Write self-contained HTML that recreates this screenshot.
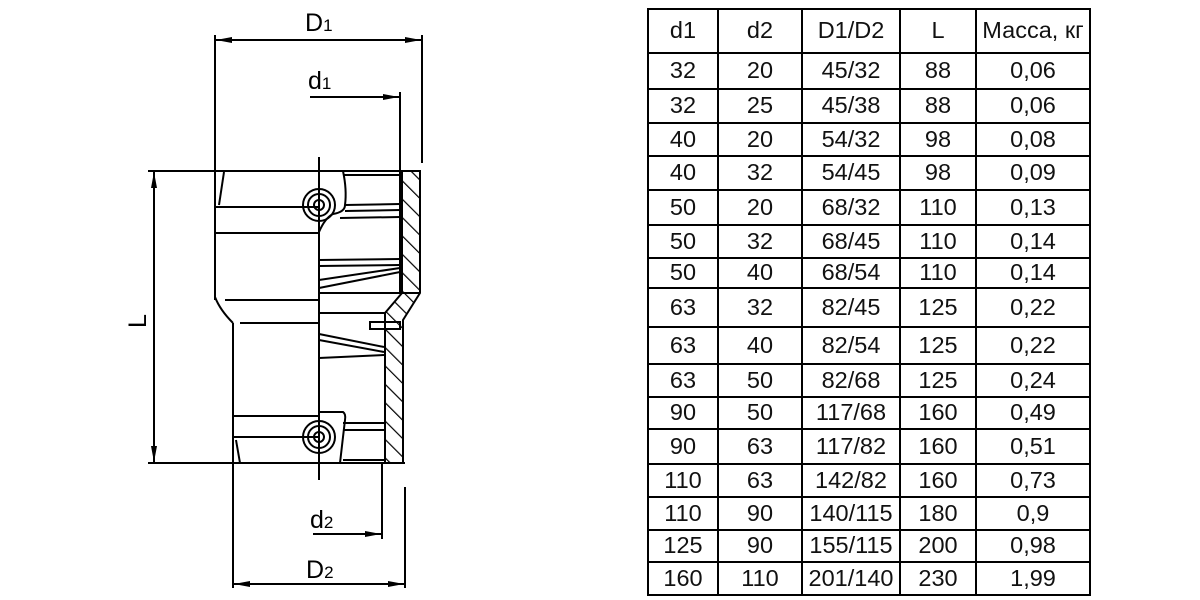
<!DOCTYPE html>
<html><head><meta charset="utf-8"><style>
body{margin:0;width:1200px;height:600px;background:#fff;overflow:hidden;font-family:"Liberation Sans",sans-serif}
table{position:absolute;left:647px;top:8px;border-collapse:collapse;font-size:23.5px;color:#111}
td{border:2px solid #000;text-align:center;padding:0;line-height:1}
</style></head><body>
<svg width="1200" height="600" style="position:absolute;left:0;top:0" fill="none" stroke="#000" stroke-width="2">
<defs>
<pattern id="h" patternUnits="userSpaceOnUse" width="13" height="13" patternTransform="rotate(-45)">
<line x1="0" y1="0" x2="0" y2="13" stroke="#000" stroke-width="2.4"/>
</pattern>
<marker id="a" markerWidth="16" markerHeight="8" refX="16" refY="4" orient="auto-start-reverse" markerUnits="userSpaceOnUse">
<path d="M0,1 L16,4 L0,7 Z" fill="#000" stroke="none"/></marker>
</defs>
<line x1="215" y1="35" x2="215" y2="300"/>
<line x1="422" y1="35" x2="422" y2="163"/>
<line x1="216" y1="40" x2="421" y2="40" marker-start="url(#a)" marker-end="url(#a)"/>
<line x1="400" y1="92" x2="400" y2="172"/>
<line x1="310" y1="97" x2="399" y2="97" marker-end="url(#a)"/>
<line x1="148" y1="171" x2="420" y2="171"/>
<line x1="148" y1="463" x2="405" y2="463"/>
<line x1="154" y1="172" x2="154" y2="462" marker-start="url(#a)" marker-end="url(#a)"/>
<line x1="233" y1="323" x2="233" y2="588"/>
<line x1="405" y1="487" x2="405" y2="588"/>
<line x1="234" y1="584" x2="404" y2="584" marker-start="url(#a)" marker-end="url(#a)"/>
<line x1="382" y1="463" x2="382" y2="539"/>
<line x1="313" y1="534" x2="381" y2="534" marker-end="url(#a)"/>
<line x1="319" y1="157" x2="319" y2="480"/>
<path d="M215,297 Q220,310 233,323"/>
<line x1="224" y1="172" x2="219" y2="205"/>
<line x1="215" y1="207" x2="319" y2="207"/>
<line x1="215" y1="233" x2="319" y2="233"/>
<line x1="225" y1="300" x2="319" y2="300"/>
<line x1="240" y1="323" x2="319" y2="323"/>
<line x1="233" y1="416" x2="319" y2="416"/>
<line x1="233" y1="437" x2="319" y2="437"/>
<line x1="236" y1="440" x2="240" y2="463"/>
<path d="M343,171 Q347,190 345,205 Q345,212 333,214 Q325,218 319,232"/>
<line x1="343" y1="175" x2="400" y2="175"/>
<line x1="345" y1="205" x2="400" y2="204"/>
<line x1="345" y1="211" x2="400" y2="210"/>
<line x1="340" y1="218" x2="400" y2="217"/>
<line x1="319" y1="260" x2="400" y2="259"/>
<line x1="319" y1="266" x2="400" y2="265"/>
<line x1="319" y1="288" x2="400" y2="272"/>
<line x1="319" y1="280" x2="400" y2="268"/>
<line x1="319" y1="293" x2="420" y2="293"/>
<line x1="319" y1="313" x2="385" y2="313"/>
<rect x="370" y="322" width="30" height="7"/>
<line x1="319" y1="334" x2="384" y2="347"/>
<line x1="319" y1="340" x2="384" y2="352"/>
<line x1="319" y1="358" x2="384" y2="355"/>
<path d="M319,412 L343,412 Q346,414 345,420 L343,437 L340,463"/>
<line x1="343" y1="423" x2="384" y2="423"/>
<line x1="343" y1="430" x2="384" y2="430"/>
<line x1="343" y1="460" x2="385" y2="460"/>
<g><circle cx="319" cy="205" r="16"/><circle cx="319" cy="205" r="11"/><circle cx="319" cy="205" r="5"/></g>
<g><circle cx="319" cy="437" r="16"/><circle cx="319" cy="437" r="11"/><circle cx="319" cy="437" r="5"/></g>
<path d="M402,171 L420,171 L420,293 L403,320 L403,463 L385,463 L385,313 L402,293 Z" fill="url(#h)"/>
<line x1="400" y1="171" x2="400" y2="293"/>
<g stroke="none" fill="#000" font-family="Liberation Sans, sans-serif" font-size="25">
<text x="305" y="31">D<tspan font-size="17">1</tspan></text>
<text x="308" y="89">d<tspan font-size="17">1</tspan></text>
<text x="310" y="528">d<tspan font-size="17">2</tspan></text>
<text x="306" y="578">D<tspan font-size="17">2</tspan></text>
<text x="130" y="328" transform="rotate(-90 138 320)">L</text>
</g>
</svg>
<table>
<colgroup><col style="width:70px"><col style="width:84px"><col style="width:98px"><col style="width:76px"><col style="width:114px"></colgroup>
<tr style="height:44px"><td>d1</td><td>d2</td><td>D1/D2</td><td>L</td><td>Масса, кг</td></tr>
<tr style="height:36px"><td>32</td><td>20</td><td>45/32</td><td>88</td><td>0,06</td></tr>
<tr style="height:34px"><td>32</td><td>25</td><td>45/38</td><td>88</td><td>0,06</td></tr>
<tr style="height:33px"><td>40</td><td>20</td><td>54/32</td><td>98</td><td>0,08</td></tr>
<tr style="height:34px"><td>40</td><td>32</td><td>54/45</td><td>98</td><td>0,09</td></tr>
<tr style="height:35px"><td>50</td><td>20</td><td>68/32</td><td>110</td><td>0,13</td></tr>
<tr style="height:33px"><td>50</td><td>32</td><td>68/45</td><td>110</td><td>0,14</td></tr>
<tr style="height:30px"><td>50</td><td>40</td><td>68/54</td><td>110</td><td>0,14</td></tr>
<tr style="height:39px"><td>63</td><td>32</td><td>82/45</td><td>125</td><td>0,22</td></tr>
<tr style="height:37px"><td>63</td><td>40</td><td>82/54</td><td>125</td><td>0,22</td></tr>
<tr style="height:33px"><td>63</td><td>50</td><td>82/68</td><td>125</td><td>0,24</td></tr>
<tr style="height:32px"><td>90</td><td>50</td><td>117/68</td><td>160</td><td>0,49</td></tr>
<tr style="height:35px"><td>90</td><td>63</td><td>117/82</td><td>160</td><td>0,51</td></tr>
<tr style="height:33px"><td>110</td><td>63</td><td>142/82</td><td>160</td><td>0,73</td></tr>
<tr style="height:33px"><td>110</td><td>90</td><td>140/115</td><td>180</td><td>0,9</td></tr>
<tr style="height:32px"><td>125</td><td>90</td><td>155/115</td><td>200</td><td>0,98</td></tr>
<tr style="height:33px"><td>160</td><td>110</td><td>201/140</td><td>230</td><td>1,99</td></tr>
</table>
</body></html>
